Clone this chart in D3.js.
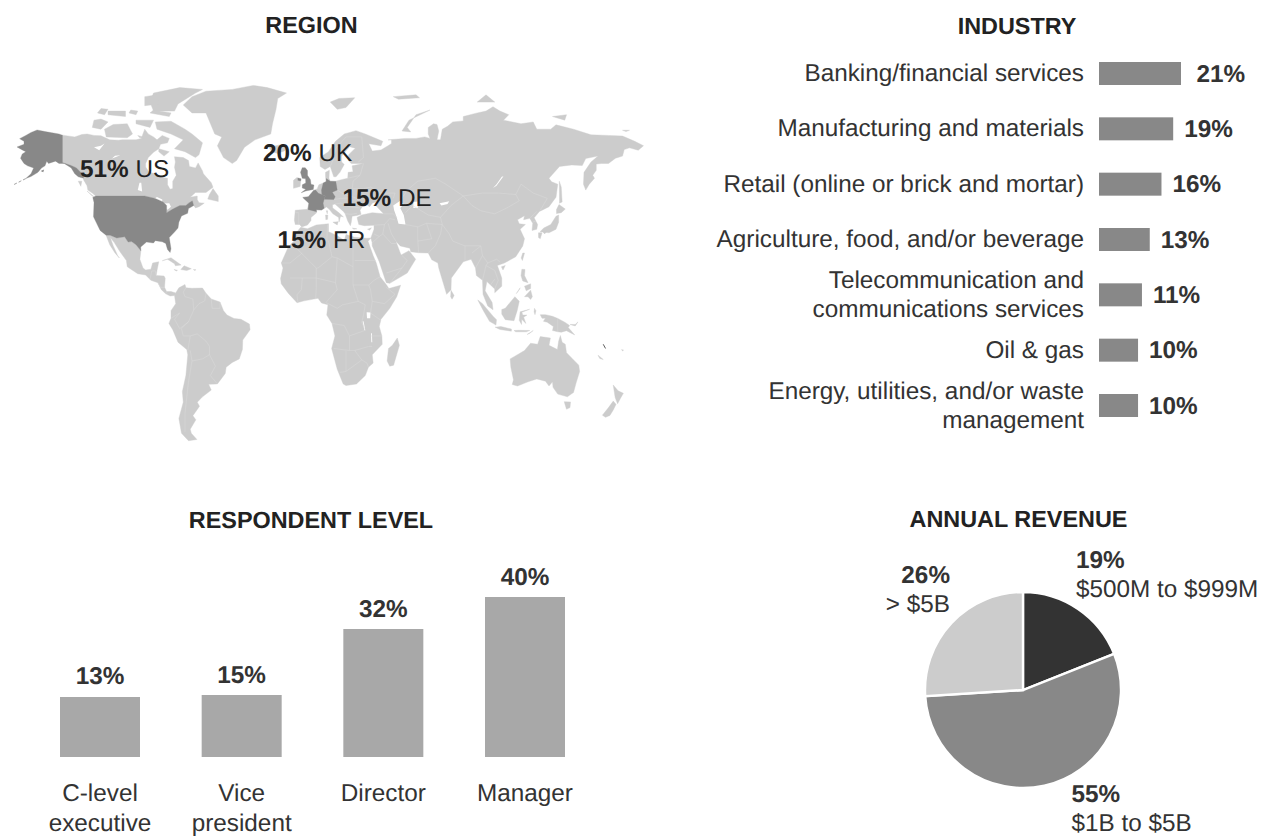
<!DOCTYPE html>
<html><head><meta charset="utf-8">
<script src="https://cdn.jsdelivr.net/npm/d3@7"></script>
<style>
html,body{margin:0;background:#fff}
svg{display:block}
text{font-family:"Liberation Sans",Helvetica,Arial,sans-serif;fill:#333;font-size:24.3px;text-rendering:geometricPrecision}
.b{font-weight:700}
.t{font-weight:700;font-size:23.4px;text-anchor:middle;fill:#222}
.m{fill:#222}
</style></head><body>
<svg id="c" width="1267" height="836"></svg>
<script>
// ---------- data ----------
const industryNames=[["Banking/financial services"],["Manufacturing and materials"],["Retail (online or brick and mortar)"],["Agriculture, food, and/or beverage"],["Telecommunication and","communications services"],["Oil & gas"],["Energy, utilities, and/or waste","management"]];
const industryValues=[21,19,16,13,11,10,10];
const levelNames=[["C-level","executive"],["Vice","president"],["Director"],["Manager"]];
const levelLabels=["13%","15%","32%","40%"];
const levelBars=[15,15.5,32,40];
const revenueValues=[19,55,26];
const revenueNames=["$500M to $999M","$1B to $5B","> $5B"];
const revenueColors=["#333333","#888888","#cccccc"];
const regionLabels=[["51%","US"],["20%","UK"],["15%","DE"],["15%","FR"]];

// land outlines, [longitude, latitude]
const alaska=[[-142,69.6],[-144,70],[-148,70.4],[-152,70.8],[-156.5,71.3],[-160,70.5],[-163,69.5],[-166.5,68.4],[-164,67.5],[-164,66.5],[-168,65.6],[-165,64.6],[-163,64],[-165,63.2],[-166,61.8],[-164,60],[-162,59.2],[-158.5,58.5],[-160,56.5],[-163,54.9],[-160,55.6],[-156,57],[-154,58.5],[-152,59.2],[-151,60.8],[-150,60],[-146,60.8],[-144,60],[-141,60],[-137,58.5],[-135,56.5],[-133,55.5],[-130,55],[-130,56],[-134,58.5],[-137,59.3],[-142,60.3]];
const canada=[[-142,69.6],[-135,69],[-131,69.8],[-128,70],[-124,69.5],[-120,69.4],[-115,68],[-110,67.9],[-108,68],[-104,68],[-100,68],[-97,68.5],[-95,71.5],[-93,70],[-90,69],[-88,68],[-85,69.5],[-81,68.5],[-82,67],[-86,66.5],[-87,65],[-90,63.8],[-93,62],[-94.5,60],[-94.5,58.8],[-92.5,57],[-88,56.4],[-85,55.3],[-82,55],[-82,52.8],[-80.5,51.3],[-79,51.5],[-79,54],[-77,56],[-78,58.7],[-77.5,60.5],[-78,62.3],[-73,62],[-70,61],[-69.5,59],[-66,58.5],[-64.5,60.2],[-62,57.5],[-61.5,56.5],[-57,53.5],[-56,52],[-60,50.2],[-66,50.2],[-69,48.5],[-65,49],[-65,47.5],[-64,46.2],[-61,46],[-64,44.5],[-66,44],[-67,45],[-67.8,47],[-70,46],[-71.5,45],[-75,45],[-79,43.5],[-82.5,42],[-82.5,45],[-84.5,46.5],[-89,48],[-95,49],[-123,49],[-125,50],[-127.5,51],[-128,52.5],[-130,54.5],[-130,55],[-130,56],[-134,58.5],[-137,59.3],[-142,60.3]];
const usa=[[-123,49],[-95,49],[-89,48],[-84.5,46.5],[-82.5,45],[-82.5,42],[-79,43.5],[-75,45],[-71.5,45],[-70,46],[-67.8,47],[-67,45],[-70,43.7],[-70.5,41.7],[-74,40.6],[-75.5,38],[-76,35.5],[-78,33.8],[-81,31.5],[-80,26.8],[-80.5,25.2],[-82,26.5],[-83,29],[-85,29.7],[-89,30.2],[-90,29.2],[-94,29.6],[-97.3,27.5],[-97.2,25.9],[-100,28.5],[-102.5,29.8],[-104.5,29.6],[-106.5,31.8],[-111,31.3],[-114.8,32.5],[-117.1,32.5],[-120.5,34.5],[-122.5,37.5],[-124.3,40.3],[-124,46.3],[-124.7,48.4]];
const mexico=[[-117.1,32.5],[-114.8,32.5],[-111,31.3],[-106.5,31.8],[-104.5,29.6],[-102.5,29.8],[-100,28.5],[-97.2,25.9],[-97.8,22.5],[-96,19],[-94.5,18.2],[-91.5,18.5],[-90.5,21],[-87,21.5],[-88,18],[-88.5,16],[-84,15.8],[-83.3,14.9],[-83.7,11],[-82.5,9.2],[-80,9.2],[-77.3,8.6],[-78,7.5],[-80.5,7.3],[-83,8.2],[-85.5,10],[-87.5,13],[-91.5,14],[-94.5,16.2],[-99,16.7],[-105,19.5],[-105.5,22],[-109.4,25.8],[-112.5,29.5],[-114.7,31.5],[-113,28],[-110.5,24],[-109.5,23],[-112,25],[-115,28.5]];
const greenland=[[-73,78.2],[-68,76],[-60,76],[-55,70],[-51,69],[-53.5,66],[-50,62],[-45,60],[-42.5,61],[-38,65.5],[-32,68],[-23,70],[-22,73],[-20,77],[-19,80],[-14,81.5],[-25,83],[-33,83.6],[-45,82.5],[-60,82],[-68,80.5]];
const southAmerica=[[-77.3,8.6],[-75.5,10.8],[-72,12.2],[-71.5,10.8],[-68,10.6],[-62,10.7],[-60,8.5],[-57,6],[-52,4.7],[-50,1],[-48,-1],[-44,-2.6],[-40,-3],[-35.2,-5.3],[-34.8,-8],[-39,-13],[-39.2,-17.5],[-41,-22],[-45,-23.7],[-48.5,-26],[-49,-29],[-53.5,-34],[-58.5,-34.2],[-57,-36.5],[-62,-39],[-65,-41],[-63.7,-42.5],[-67.5,-46],[-65.8,-47.5],[-69,-51],[-68.4,-52.5],[-65.2,-54.8],[-70,-55.3],[-74,-52.5],[-75.5,-47],[-73,-41],[-73.5,-37],[-71.5,-30],[-70.4,-20],[-71,-17.5],[-76,-14],[-79,-8],[-81.2,-5],[-80,-2.5],[-80,1],[-77.3,4],[-78,7.5]];
const africa=[[-5.9,35.8],[-2,35.2],[3,36.8],[10,37.3],[10,34],[15,32.3],[19,30.3],[20,32.8],[25,31.6],[32,31.2],[34.2,31.3],[32.6,29.9],[35.5,24],[37.3,21],[39.5,15.5],[43.2,12],[44.5,10.5],[51.2,11.9],[49,7],[45,2],[40,-3],[39,-6.5],[40.5,-11],[40.7,-15],[35,-20],[35.5,-24],[32.8,-26],[31,-30],[26,-34],[20,-34.8],[18.4,-34],[15,-27],[11.8,-17],[13.7,-11],[12,-5],[9,-1],[9.7,3.5],[6,4.3],[4,6.3],[-4,5.2],[-8,4.4],[-13,8.5],[-17,12.5],[-17.4,14.8],[-16,19],[-17,21],[-13,27.5],[-9.8,30],[-9,33]];
const eurasia=[[-9,37],[-9.5,38.8],[-9,43],[-2,43.4],[-1.2,46],[-4.7,48.4],[-1.5,48.7],[1.5,50.9],[3.5,51.4],[4.5,52.8],[7,53.4],[8.7,53.9],[8.3,55.5],[8.3,57],[10.5,57.7],[10.3,55],[11,54],[14,54],[18.5,54.7],[21,55],[21.2,57],[24,57.2],[23.5,59.2],[30,60],[23,60],[21.3,61],[21.5,63],[25.3,65.2],[22,65.7],[17.5,62.5],[17.5,60.5],[19,59.7],[16.5,57],[14.3,55.5],[13,55.5],[11,59],[8,58],[5.3,59],[5,62],[10,64],[14,67.5],[19,70],[25.7,71.1],[31,70],[41,67.5],[40,66],[33,66.7],[35,64.2],[40,64.6],[44,66],[46,66.8],[46,68],[44,68],[54,68.5],[60,68.5],[65,69],[68,68.5],[67,70],[67,72],[70,73],[72,72.8],[73,71],[72,68],[74,68],[75,71.5],[78,72.3],[81,73.5],[87,73.8],[87,75],[95,76],[100,76.5],[104,77.7],[108,76.5],[113,75.5],[110,74],[113,73.7],[120,73],[127,73.5],[129,71.5],[133,71.5],[137,71.5],[140,72.7],[150,71.5],[160,69.7],[170,69.5],[178,69.3],[185,67.5],[190,66],[187,64.5],[182,65.3],[179,64.7],[178,62.5],[174,61.8],[170,60],[166,60],[163,59.8],[163,57.7],[161,56],[162,55],[159,53],[157,51],[155.7,53],[156,57],[160,60.5],[164,62.5],[157,61.7],[155,59.3],[149,59.5],[142,59],[136,55],[137.5,53.8],[141,53],[140,48.5],[136,44.5],[132,43],[130.5,42.5],[127.5,39.8],[129.5,37],[129,35],[126.3,34.5],[126.7,37.5],[125,39.6],[121.5,39],[122,40.7],[118,39],[119,37.3],[122.5,37],[119.5,35],[122,31],[121,28],[117,23.5],[110.5,21],[106.5,20],[109,15],[109,11.5],[105,8.7],[105,10.3],[100.5,13.5],[99.5,9.5],[103.5,4.5],[104,1.4],[101,3],[98.3,8],[98,14],[94.5,16],[94,19],[91.5,22.5],[87,21.5],[80.2,15],[80,10],[77.5,8],[73,19],[72.5,21],[69,22.3],[67,25],[61.5,25.1],[57,25.5],[56.5,27],[51,28],[48.5,30],[51,25],[51.5,24.2],[56,26],[59.8,22.5],[55,17],[45,12.7],[43,13],[39,21.5],[35,28],[34.9,29.5],[34.2,31.3],[36,35],[36,36.7],[30.5,36.5],[27.3,37],[26.3,40],[29,41],[35,42],[41.5,41.5],[37,45],[39,47],[35,46],[33.5,44.5],[30.5,46],[28,43],[28.6,41.3],[26.2,40.8],[23.5,40.5],[23,38],[22.5,36.5],[21,38.5],[19.5,41.5],[18.5,42.5],[13.7,45.6],[12.3,45.3],[12.4,44],[16,41.9],[18.5,40.2],[16.9,40.5],[16,38],[15.8,40],[12.5,41.5],[10.3,43.5],[8.8,44.4],[6,43.1],[3,43.2],[3.2,41.9],[0,40],[0,38.7],[-2,36.8],[-5.3,36],[-6.5,37]];
const islands=[
[[-80,73.7],[-72,71.5],[-68,70],[-62,67],[-64,63],[-66,62],[-72,64],[-78,65],[-73,68],[-80,70],[-88,71.5],[-89,73.5]],
[[-117,69],[-105,68.7],[-102,70],[-105,73],[-113,72.8],[-118,71.5]],
[[-125,72],[-120,71.5],[-116,73.5],[-120,74.3],[-124,74]],
[[-90,76.5],[-78,76.5],[-76,78.5],[-66,81.5],[-62,82.5],[-75,83],[-90,81.5],[-92,79]],
[[-92,76],[-81,75],[-80,76],[-90,76.8]],
[[-116,75.5],[-106,75],[-106,76.5],[-116,76.5]],
[[-104,76],[-100,75.5],[-99,76.5],[-103,76.8]],
[[-122,76],[-118,75.5],[-116,77],[-120,77.2]],
[[-95,78],[-87,78.5],[-88,81],[-95,80.5]],
[[-100,73],[-92,72],[-90,74],[-100,74]],
[[-99,69.5],[-96,69],[-95,68.5],[-98,68.8]],
[[-87,65],[-81,64],[-84,62.5],[-87,64]],
[[-59,47.7],[-53,46.7],[-53,49],[-56,51.5],[-58,49.5]],
[[-128,50.7],[-123.5,48.4],[-125,49]],
[[-133,54],[-131,54],[-131.5,52.3]],
[[-85,21.9],[-80,23.1],[-74.2,20.2],[-77.5,19.9],[-78,20.7],[-82,22.5]],
[[-74.4,18.4],[-72.5,19.9],[-68.4,18.7],[-71,18]],
[[-78.3,18.4],[-76.3,18.1],[-77,17.8]],
[[-67.2,18.4],[-65.7,18.3],[-66.5,18]],
[[-24,65.5],[-18,66.3],[-14,65.5],[-15,64.3],[-19,63.4],[-22.5,64]],
[[-10,54.3],[-8,55.3],[-5.8,54.5],[-6.2,52.2],[-10,51.6]],
[[11,79],[16,80],[25,80.2],[20,77.5],[15,77]],
[[52,71],[56,74],[68,76.8],[60,75.5],[55,72],[57,70.7]],
[[95,79],[105,79],[100,81]],
[[138,75],[146,75.5],[145,74]],
[[178,71.2],[182,71.2],[180,70.8]],
[[47,80.5],[60,81],[62,80.2],[50,79.8]],
[[8.3,41],[9.6,41],[9.5,39.2],[8.5,39]],[[8.7,42.8],[9.5,42.8],[9.3,41.5]],[[12.5,38],[15.5,38.2],[15,36.8]],
[[23.6,35.5],[26.2,35.2],[24.5,35]],[[32.3,35],[34.5,35.6],[33.5,34.6]],
[[141.9,54],[143,52],[143.5,46.5],[142,46],[142,50]],
[[140.3,43.3],[141.7,45.4],[145.3,43.5],[143,42],[140.3,41.6]],
[[130.9,34],[136,33.5],[140,35],[141.5,38],[141.5,41],[140,40.5],[137,37],[133,35.5]],
[[130,33.5],[132,33.5],[131,31],[130,31.5]],[[132.5,34],[134.5,34],[133.5,33]],
[[121,25],[122,25],[120.8,22],[120.1,23]],[[108.8,19.5],[111,20],[109.7,18.2]],
[[120.5,18.5],[122.3,18.4],[122,16],[124,13],[121,13.7],[120,16]],[[122,11.5],[125.5,12.5],[125.5,10.5],[123,9.5]],
[[122,7],[125.5,9.8],[126.5,7],[125.5,5.8],[124,7]],[[117.3,8.3],[119.5,10.8],[119,10]],
[[80,9.7],[81.8,7.5],[80.6,5.9],[79.8,7]],
[[95.3,5.6],[98,4],[104,-1.5],[106,-3.2],[105.7,-5.8],[102,-4],[98.5,1]],
[[105.2,-6.8],[108.5,-6.5],[114.5,-7.7],[114.5,-8.7],[108,-7.9]],
[[109,1.5],[111,2],[116.5,7],[119,5],[117.8,1],[116,-3.7],[111,-3.2],[109,-0.5]],
[[119.5,0.5],[124.9,1.6],[120.5,0.3],[121,-1],[123.4,-1],[121.5,-2],[122.8,-5],[120.4,-3],[120.3,-5.5],[119,-3.5]],
[[116,-8.4],[119,-8.3],[125,-8.4],[123,-9],[117,-9]],[[123.5,-10.3],[127,-8.4],[125,-9.7]],
[[127.7,2],[128.5,1],[128,-0.8],[127.5,0.5]],
[[131,-0.8],[134,-0.8],[138,-1.6],[141,-2.6],[145,-4.4],[147.8,-6],[147,-7],[150.7,-10.5],[146,-8.5],[143,-9.2],[141,-9],[138,-8.4],[138.5,-6.5],[135,-4.4],[132.8,-4],[134,-2.5],[132,-2.5]],
[[148,-5.5],[151,-5.5],[152.5,-4.3],[151,-6.2]],
[[113.8,-22],[114.2,-26],[115.7,-32],[115,-34.3],[118,-35],[124,-33],[129,-31.6],[134,-32.7],[136,-35],[138,-33],[138.3,-35.5],[141,-38],[146.5,-39],[150,-37.4],[151.5,-33.5],[153.5,-28],[153,-25],[149.5,-22],[146,-19],[145.3,-15],[143.5,-14],[142.5,-10.8],[141.5,-13.5],[140.8,-17.5],[136,-15.5],[136.8,-12],[131,-11.3],[129.5,-15],[125.5,-14.5],[122,-18],[116.5,-20.7]],
[[144.7,-40.8],[148.3,-40.9],[148,-43],[146,-43.6]],
[[172.7,-34.5],[175.5,-36.8],[178.5,-37.7],[176.8,-39.6],[175.2,-41.6],[173.8,-39.3]],
[[172.7,-40.6],[174.3,-41.8],[172.8,-43.8],[170.8,-45.9],[168.3,-46.6],[166.5,-45.8],[170,-43]],
[[164,-20.2],[167,-22.3],[165,-21.8]],[[177.5,-17.5],[178.6,-17.8],[178,-18.2]],
[[49.3,-12],[50.5,-15.5],[47.2,-25],[45,-25.5],[43.5,-23],[44.3,-17],[46.5,-15.5]]];
const aleutians=[[-163,54.9],[-166,54],[-170,52.8]];
const kodiak=[[-154.5,57.5],[-152.5,58],[-153,57]];
const uk=[[-5.6,50.1],[-3,50.7],[1.3,51.2],[1.7,52.7],[0,53],[-0.3,54.5],[-2,56],[-2,57.6],[-3.3,58.6],[-5,58.6],[-6,57],[-5,55],[-3.1,54.8],[-3,53.4],[-5,52.8],[-5,51.7],[-3,51.3]];
const ulster=[[-7.5,55.1],[-5.6,54.8],[-6,54.1],[-7.5,54.3]];
const france=[[-4.7,48.4],[-1.5,48.7],[1.5,50.9],[2.6,51],[4.2,49.9],[8.2,49],[7.5,47.6],[6.9,46],[7.5,43.8],[6,43.1],[3,43.2],[3.2,42.4],[-1.7,43.3],[-1.2,46]];
const germany=[[7,53.4],[8.7,53.9],[8.7,54.9],[11,54],[14.2,53.9],[15,51],[12.2,50.3],[13.8,48.7],[13,47.5],[7.6,47.6],[8.2,49],[6.2,49.5],[6,51]];
const water=[
[[47,45],[51,47],[53,45.5],[51,44],[53,41],[54,37],[50,37.3],[49,40],[47.5,43]],
[[58.5,46.5],[61,46.7],[61,44],[58.5,44]],
[[104,51.7],[106,52.5],[110,55.7],[109,55.5],[106,53]],
[[73.5,46],[79,46.8],[78,45.6],[74.5,45]],
[[-92,46.7],[-88,48.6],[-85,47.5],[-85,46.6],[-88,46.6]],
[[-87.7,42],[-87,46],[-85,45.7],[-86.3,42.5]],
[[-84.5,45.8],[-81,46],[-80,44.5],[-82,43.2],[-83.5,44]],
[[-83,41.8],[-79,42.8],[-79,42.6],[-82.5,41.4]],
[[-79.6,43.4],[-76.3,44],[-76.2,43.5]],
[[-121,64.5],[-118,66.8],[-120,66],[-124,65.5]],
[[-115,61],[-112,62.6],[-109,62.8],[-114,61.6]],
[[-99,51],[-98,53.5],[-97,53.5],[-96.5,50.5]],
[[31.8,0.3],[34,0.2],[33.8,-2.5],[32,-2.5]],
[[29.5,-4],[30,-4],[31,-8.3],[30.5,-8.3]],
[[34.3,-9.7],[34.8,-9.7],[35,-14],[34.5,-14]]];
const vanuatu=[[167,-15],[168.3,-17]];
const borders=[
[[-92,14.5],[-91,17.8],[-89,17.9],[-88.5,16]],[[-83.7,11],[-86,11],[-87.5,13]],[[-83,8.2],[-82.5,9.2]],
[[-71.5,10.8],[-73,9],[-72,7],[-67.5,6],[-67,1.3],[-70,-4.2],[-74,-7.5],[-73,-11],[-69,-11],[-65,-10],[-60,-13.5],[-58,-16],[-58,-20],[-54.6,-25.5],[-57.5,-30],[-53.5,-34]],
[[-60,8.5],[-60.7,5.2],[-64,4],[-67,1.3]],[[-57,6],[-56.5,2],[-52,2],[-52,4.7]],
[[-80,-2.5],[-75,0],[-78,-3],[-75,-7.5],[-70,-4.2]],[[-70.4,-18],[-69,-11]],[[-69,-18],[-68,-23],[-70,-33],[-72,-45],[-72,-52]],[[-68,-23],[-62,-22],[-58,-20]],
[[-9,27.7],[-3,30],[-1.5,34.5]],[[-13,27.7],[-8.7,27.3],[3,19],[4,19],[12,23.5],[15,23],[24,19.5],[24,31.6]],[[9,30],[9.5,37]],[[12,23.5],[10,30]],[[25,22],[37,22]],[[24,12],[24,19.5]],[[15,23],[14,13],[15,10],[8.5,4.5]],[[3,19],[3,11],[2.7,6.3]],[[-12,15],[-5,15],[-5.5,10],[-8,7.8],[-7.5,4.4]],[[-17,21],[-12,21],[-5,25]],[[-5,15],[3,15],[14,13]],[[24,12],[33,12],[36,14],[39.5,15.5]],[[33,12],[34,10],[35,5],[42,4],[48,8],[43,11]],[[35,5],[34,0],[40,-3.5]],[[24,12],[27,5],[31,3.5],[30,-1],[29,-4.5],[31,-8.3],[22,-11],[22,-18],[13,-17]],[[12,-5],[19,-6],[22,-11]],[[8.5,4.5],[15,2],[18,3.5],[27,5]],[[34,-11],[40.5,-11]],[[22,-18],[25,-18],[33,-16],[35,-16]],[[20,-18],[20,-28],[16.5,-28.5]],[[25,-18],[29,-22.5],[32,-24],[32.8,-26]],[[20,-28],[25,-25],[29,-22.5]],
[[30,60],[28,56],[24,54],[23.5,51],[22.5,49],[26,48],[29,45.5]],[[14.2,53.9],[15,51],[19,49.5],[22.5,49]],[[13,47.5],[17,48],[22.5,48.2]],[[13.7,45.6],[17,46],[22,44.5],[28,44]],[[19.5,41.5],[23,41.3],[26.2,41.7]],[[-9,42],[-7,42],[-7,37.2]],[[11,59],[12.5,61],[14,65],[20,69]],[[20,69],[29,69],[30,62],[27,60.5]],[[21,55],[28,56]],
[[40,50],[34,52],[30,51.5],[24,51.5]],[[37,47],[40,50],[48,50],[47,48]],[[51,47],[55,51],[61,54],[71,55],[77,53],[87,49]],[[87,49],[98,50],[107,50],[117,49.5],[120,53],[127,50],[135,48],[131,43]],[[87,49],[92,45],[97,42.8],[105,41.5],[112,44],[119,47],[117,49.5]],
[[87,49],[80,45],[74,40],[75,37],[79,33],[81,30],[88,28],[97,28],[98,24],[101,21],[106,22.5],[108,21.5]],
[[54,42],[58,45],[67,41],[74,40]],[[54,37],[61,36],[66,37.5],[75,37]],[[61,36],[61,31],[61.5,25]],[[66,37.5],[69,31],[61,30]],[[67,25],[71,28],[74,33],[75,37]],[[88,28],[88,22]],[[92,25],[97,28]],[[94,19],[98,24]],[[98,14],[100,20],[101,21]],[[100,20],[105,18],[107,14],[105,10.3]],[[102.5,12],[105,14.5]],
[[36,36.7],[42,37],[45,39.5],[48,39]],[[41.5,41.5],[47,41.5],[49,40]],[[44,37.5],[46,33],[48.5,30]],[[42,37],[41,33],[39,32],[36,33]],[[41,33],[46,29],[48.5,29]],[[35,29.3],[39,32]],[[45,12.7],[52,19],[55,22],[52,24]],[[43,17],[52,19]],
[[125,39.6],[129,42.5]],[[126.7,38],[128.5,38.5]],
[[141,-2.6],[141,-9]]];
// ---------- scales ----------
const svg=d3.select("#c");
const lon=d3.scaleLinear().domain([-180,190]).range([-4,643.5]);
const lat=d3.scaleLinear().domain([-60,-55,-35,0,15,25,49,71,84]).range([452,440,386,313,278,253,196,131,84]);
const geo=d3.geoPath(d3.geoTransform({point(x,y){this.stream.point(lon(x),lat(y));}}));
const poly=r=>({type:"Polygon",coordinates:[r.concat([r[0]])]});
const map=svg.append("g");
const LAND="#cccccc",HI="#888888";
const lands=[canada,mexico,greenland,southAmerica,africa,eurasia,...islands];
map.append("g").selectAll("path").data(lands).join("path").attr("d",d=>geo(poly(d))).attr("fill",LAND).attr("stroke",LAND).attr("stroke-width",.4);
map.append("g").selectAll("path").data(water).join("path").attr("d",d=>geo(poly(d))).attr("fill","#fff");
map.append("g").selectAll("path").data(borders).join("path").attr("d",d=>geo({type:"LineString",coordinates:d})).attr("fill","none").attr("stroke","#dadada").attr("stroke-width",.5);
map.append("g").selectAll("path").data([alaska,usa,uk,ulster,france,germany]).join("path").attr("d",d=>geo(poly(d))).attr("fill",HI).attr("stroke",HI).attr("stroke-width",.3);
map.append("g").selectAll("path").data([aleutians]).join("path").attr("d",d=>geo({type:"LineString",coordinates:d})).attr("fill","none").attr("stroke",HI).attr("stroke-width",.8).attr("stroke-dasharray","3 2");
map.append("path").attr("d",geo(poly(kodiak))).attr("fill",HI);
map.append("path").attr("d",geo({type:"LineString",coordinates:vanuatu})).attr("fill","none").attr("stroke","#333").attr("stroke-width",.8);

// titles
[["REGION",311.5,32.5],["INDUSTRY",1017,34],["RESPONDENT LEVEL",311,528],["ANNUAL REVENUE",1018.5,527]].forEach(t=>svg.append("text").attr("class","t").attr("x",t[1]).attr("y",t[2]).text(t[0]));

// region labels
const regionPos=[[80,177],[263,160.5],[342.5,206],[277.5,248]];
regionLabels.forEach((d,i)=>{const t=svg.append("text").attr("class","m").attr("x",regionPos[i][0]).attr("y",regionPos[i][1]);
 t.append("tspan").attr("class","b m").text(d[0]);t.append("tspan").attr("class","m").text(" "+d[1]);});

// industry
const ix=d3.scaleLinear().domain([0,21]).range([1099,1181]);
const iy=d3.scalePoint().domain(d3.range(7)).range([73.5,405.5]);
const ig=svg.append("g").selectAll("g").data(industryValues).join("g");
ig.append("rect").attr("x",ix(0)).attr("y",(d,i)=>iy(i)-11.5).attr("height",23).attr("width",d=>ix(d)-ix(0)).attr("fill","#888");
ig.append("text").attr("class","b").attr("x",d=>ix(d)+(d===21?15.5:11)).attr("y",(d,i)=>iy(i)+8).text(d=>d+"%");
ig.each(function(d,i){const n=industryNames[i];n.forEach((s,k)=>d3.select(this).append("text").attr("text-anchor","end").attr("x",1084).attr("y",iy(i)+7.5+(k-(n.length-1)/2)*29).text(s));});

// respondent level
const lx=d3.scalePoint().domain(d3.range(4)).range([100,525]);
const ly=d3.scaleLinear().domain([0,40]).range([757,597]);
const lg=svg.append("g").selectAll("g").data(levelBars).join("g");
lg.append("rect").attr("x",(d,i)=>lx(i)-40).attr("width",80).attr("y",d=>ly(d)).attr("height",d=>ly(0)-ly(d)).attr("fill","#a8a8a8");
lg.append("text").attr("class","b").attr("text-anchor","middle").attr("x",(d,i)=>lx(i)).attr("y",d=>Math.min(ly(d)-12,683.5)).text((d,i)=>levelLabels[i]);
lg.each(function(d,i){levelNames[i].forEach((s,k)=>d3.select(this).append("text").attr("text-anchor","middle").attr("x",lx(i)).attr("y",801+k*29.5).text(s));});

// pie
const pie=d3.pie().sort(null)(revenueValues);
const arc=d3.arc().innerRadius(0).outerRadius(98);
svg.append("g").attr("transform","translate(1023,690)").selectAll("path").data(pie).join("path").attr("d",arc).attr("fill",(d,i)=>revenueColors[i]).attr("stroke","#fff").attr("stroke-width",2.4);
const revPos=[[1076,568,1076,597],[1071.5,802,1071.5,831],[950,583,950,612]];
const revAnchor=["start","start","end"];
revenueValues.forEach((v,i)=>{const p=revPos[i];
 svg.append("text").attr("class","b").attr("text-anchor",revAnchor[i]).attr("x",p[0]).attr("y",p[1]).text(v+"%");
 svg.append("text").attr("text-anchor",revAnchor[i]).attr("x",p[2]).attr("y",p[3]).text(revenueNames[i]);});
</script></body></html>
